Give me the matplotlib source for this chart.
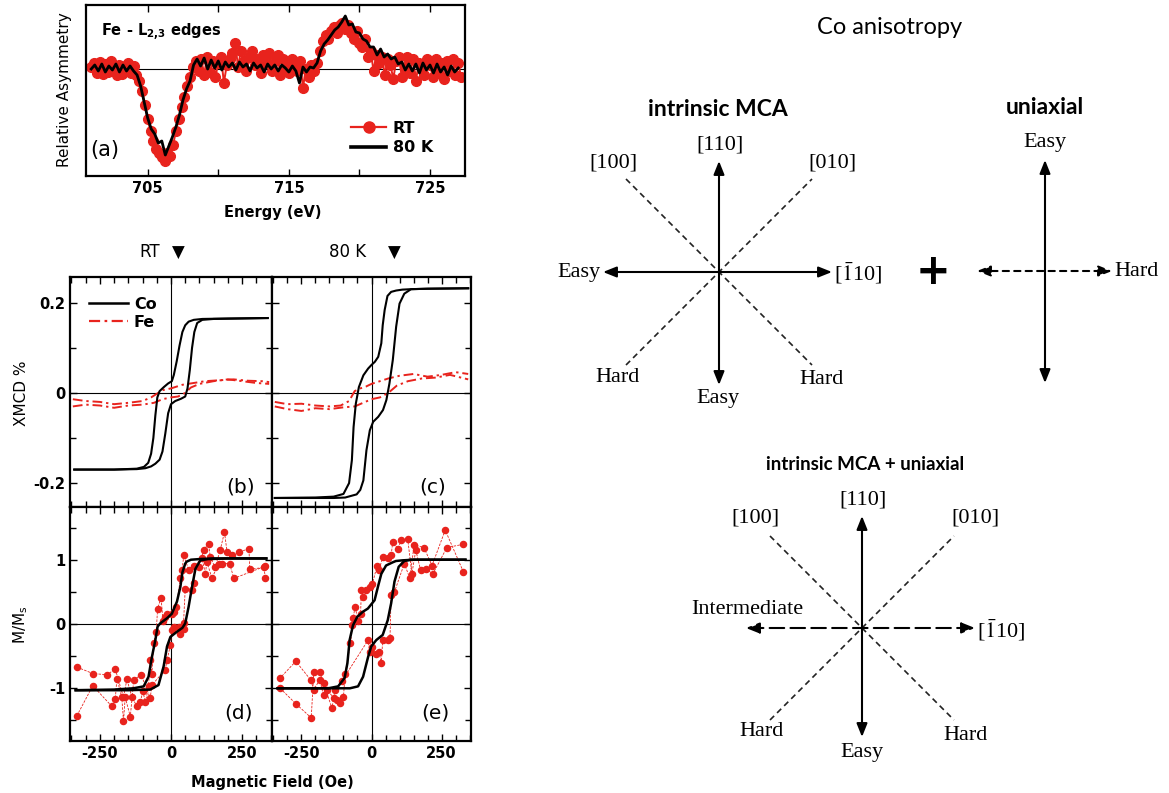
import numpy as np
import matplotlib.pyplot as plt
from matplotlib.lines import Line2D
from matplotlib.ticker import MultipleLocator, FixedLocator

plt.rcParams['font.family'] = 'DejaVu Sans'
plt.rcParams['axes.unicode_minus'] = False

### data ###
# (a) Fe L2,3 edge XMCD: 80 K line and RT dots
E_80K = [701.0, 701.25, 701.5, 701.75, 702.0, 702.25, 702.5, 702.75,
         703.0, 703.25, 703.5, 703.75, 704.0, 704.25, 704.5, 704.75,
         705.0, 705.25, 705.5, 705.75, 706.0, 706.25, 706.5, 706.75,
         707.0, 707.25, 707.5, 707.75, 708.0, 708.25, 708.5, 708.75,
         709.0, 709.25, 709.5, 709.75, 710.0, 710.25, 710.5, 710.75,
         711.0, 711.25, 711.5, 711.75, 712.0, 712.25, 712.5, 712.75,
         713.0, 713.25, 713.5, 713.75, 714.0, 714.25, 714.5, 714.75,
         715.0, 715.25, 715.5, 715.75, 716.0, 716.25, 716.5, 716.75,
         717.0, 717.25, 717.5, 717.75, 718.0, 718.25, 718.5, 718.75,
         719.0, 719.25, 719.5, 719.75, 720.0, 720.25, 720.5, 720.75,
         721.0, 721.25, 721.5, 721.75, 722.0, 722.25, 722.5, 722.75,
         723.0, 723.25, 723.5, 723.75, 724.0, 724.25, 724.5, 724.75,
         725.0, 725.25, 725.5, 725.75, 726.0, 726.25, 726.5, 726.75,
         727.0]
A_80K = [0.00, 0.04, -0.02, 0.05, -0.03, 0.03, -0.01, 0.05,
         -0.03, 0.04, -0.02, 0.03, -0.02, -0.06, -0.17, -0.33,
         -0.49, -0.60, -0.65, -0.74, -0.72, -0.86, -0.77, -0.68,
         -0.58, -0.46, -0.31, -0.20, -0.12, 0.04, 0.10, 0.03,
         0.11, 0.00, 0.09, 0.01, 0.08, -0.01, 0.07, 0.02,
         0.06, -0.01, 0.07, 0.02, 0.05, -0.02, 0.06, 0.01,
         0.04, -0.03, 0.05, 0.00, 0.04, -0.02, 0.04, 0.01,
         -0.03, 0.03, -0.02, -0.14, 0.02, -0.03, 0.02, 0.01,
         0.06, 0.18, 0.25, 0.29, 0.34, 0.39, 0.42, 0.47,
         0.53, 0.44, 0.45, 0.37, 0.36, 0.30, 0.28, 0.22,
         0.22, 0.14, 0.20, 0.12, 0.15, 0.10, 0.12, 0.05,
         0.07, -0.01, 0.05, -0.02, 0.05, -0.04, 0.06, -0.01,
         0.04, -0.04, 0.05, -0.03, 0.02, -0.06, 0.03, -0.03,
         0.01]
E_RT = [701.0, 701.2, 701.4, 701.6, 701.8, 702.0, 702.2, 702.4, 702.6, 702.8,
        703.0, 703.2, 703.4, 703.6, 703.8, 704.0, 704.2, 704.4, 704.6, 704.8,
        705.0, 705.2, 705.4, 705.6, 705.8, 706.0, 706.2, 706.4, 706.6, 706.8,
        707.0, 707.2, 707.4, 707.6, 707.8, 708.0, 708.2, 708.4, 708.6, 708.8,
        709.0, 709.2, 709.4, 709.6, 709.8, 710.0, 710.2, 710.4, 710.6, 710.8,
        711.0, 711.2, 711.4, 711.6, 711.8, 712.0, 712.2, 712.4, 712.6, 712.8,
        713.0, 713.2, 713.4, 713.6, 713.8, 714.0, 714.2, 714.4, 714.6, 714.8,
        715.0, 715.2, 715.4, 715.6, 715.8, 716.0, 716.2, 716.4, 716.6, 716.8,
        717.0, 717.2, 717.4, 717.6, 717.8, 718.0, 718.2, 718.4, 718.6, 718.8,
        719.0, 719.2, 719.4, 719.6, 719.8, 720.0, 720.2, 720.4, 720.6, 720.8,
        721.0, 721.2, 721.4, 721.6, 721.8, 722.0, 722.2, 722.4, 722.6, 722.8,
        723.0, 723.2, 723.4, 723.6, 723.8, 724.0, 724.2, 724.4, 724.6, 724.8,
        725.0, 725.2, 725.4, 725.6, 725.8, 726.0, 726.2, 726.4, 726.6, 726.8,
        727.0, 727.2]
A_RT = [0.02, 0.06, -0.04, 0.07, -0.05, 0.05, -0.03, 0.08, -0.02, -0.06,
        0.04, -0.05, 0.03, 0.06, -0.04, 0.03, -0.06, -0.12, -0.22, -0.36,
        -0.50, -0.62, -0.72, -0.80, -0.84, -0.88, -0.92, -0.84, -0.87, -0.76,
        -0.62, -0.50, -0.38, -0.28, -0.17, -0.08, 0.02, 0.08, -0.02, 0.10,
        -0.06, 0.12, -0.03, 0.08, -0.08, 0.06, 0.12, -0.14, 0.04, 0.10,
        0.16, 0.26, 0.02, 0.18, 0.08, -0.02, 0.12, 0.18, 0.04, 0.10,
        -0.04, 0.14, 0.06, 0.16, -0.02, 0.08, 0.14, -0.06, 0.10, 0.02,
        -0.04, 0.10, 0.04, -0.02, 0.08, -0.19, 0.00, -0.08, 0.04, -0.02,
        0.06, 0.18, 0.28, 0.34, 0.30, 0.38, 0.42, 0.36, 0.44, 0.46,
        0.40, 0.44, 0.36, 0.30, 0.38, 0.26, 0.22, 0.30, 0.12, 0.18,
        -0.02, 0.14, 0.06, 0.12, -0.06, 0.10, 0.04, -0.10, 0.08, 0.12,
        -0.08, 0.02, 0.12, -0.04, 0.10, -0.12, 0.06, 0.02, -0.06, 0.10,
        0.04, -0.08, 0.10, -0.04, 0.06, -0.10, 0.08, -0.02, 0.10, -0.06,
        0.06, -0.08]

# (b) XMCD loops at RT (field in Oe, XMCD in %)
H_Co_RT_dn = [340, 200, 110, 80, 62, 50, 40, 30, 20, 10, 3, -10, -25, -40, -48, -55,
              -62, -70, -80, -95, -120, -200, -340]
X_Co_RT_dn = [0.166, 0.165, 0.164, 0.162, 0.158, 0.150, 0.135, 0.105, 0.070, 0.040,
              0.026, 0.021, 0.013, 0.004, -0.010, -0.050, -0.100, -0.135, -0.155,
              -0.164, -0.168, -0.170, -0.170]
H_Co_RT_up = [-340, -200, -120, -90, -70, -55, -40, -30, -20, -10, 0, 15, 35, 50, 58,
              66, 74, 82, 92, 110, 150, 250, 340]
X_Co_RT_up = [-0.170, -0.170, -0.169, -0.167, -0.163, -0.157, -0.148, -0.130, -0.090,
              -0.045, -0.025, -0.018, -0.013, -0.008, 0.010, 0.050, 0.100, 0.135,
              0.155, 0.162, 0.164, 0.165, 0.166]
H_Fe_RT_dn = [-345, -300, -250, -200, -150, -100, -70, -50, -30, 0, 40, 80, 120, 170,
              220, 270, 320, 345]
X_Fe_RT_dn = [-0.014, -0.018, -0.020, -0.025, -0.022, -0.018, -0.010, -0.002, 0.006,
              0.010, 0.018, 0.022, 0.026, 0.028, 0.030, 0.027, 0.026, 0.024]
H_Fe_RT_up = [-345, -300, -250, -200, -150, -100, -60, -30, 0, 25, 50, 70, 100, 150,
              200, 250, 300, 345]
X_Fe_RT_up = [-0.030, -0.026, -0.028, -0.033, -0.028, -0.026, -0.022, -0.014, -0.010,
              -0.008, 0.000, 0.012, 0.020, 0.026, 0.030, 0.026, 0.022, 0.020]

# (c) XMCD loops at 80 K
H_Co_80_dn = [345, 200, 141, 110, 88, 70, 57, 47, 40, 35, 24, 12, 0, -12, -29, -45,
              -56, -64, -70, -80, -100, -135, -200, -345]
X_Co_80_dn = [0.232, 0.231, 0.230, 0.229, 0.227, 0.224, 0.215, 0.184, 0.150, 0.110,
              0.080, 0.069, 0.062, 0.054, 0.039, 0.013, -0.024, -0.076, -0.149,
              -0.200, -0.224, -0.230, -0.232, -0.233]
H_Co_80_up = [-345, -200, -135, -94, -53, -40, -29, -18, -6, 6, 24, 41, 53, 64, 76,
              88, 100, 117, 141, 200, 345]
X_Co_80_up = [-0.233, -0.233, -0.233, -0.232, -0.225, -0.215, -0.194, -0.127, -0.083,
              -0.064, -0.053, -0.038, -0.016, 0.021, 0.073, 0.147, 0.198, 0.220,
              0.230, 0.231, 0.232]
H_Fe_80_dn = [-345, -300, -250, -200, -150, -110, -80, -60, -40, -20, 0, 30, 60, 100,
              150, 200, 250, 300, 345]
X_Fe_80_dn = [-0.020, -0.025, -0.024, -0.028, -0.030, -0.028, -0.018, 0.004, 0.010,
              0.014, 0.020, 0.026, 0.032, 0.038, 0.042, 0.036, 0.040, 0.046, 0.042]
H_Fe_80_up = [-345, -300, -250, -200, -150, -100, -60, -30, 0, 30, 60, 90, 130, 180,
              230, 280, 345]
X_Fe_80_up = [-0.030, -0.036, -0.040, -0.034, -0.036, -0.032, -0.030, -0.022, -0.014,
              -0.010, 0.000, 0.016, 0.026, 0.032, 0.034, 0.040, 0.030]

# (d) M/Ms at RT: Co reference loop (line) and Fe dots
H_d_line_dn = [335, 150, 100, 70, 55, 50, 40, 33, 21, 3, -14, -38, -47, -55, -67, -79,
               -96, -132, -200, -335]
M_d_line_dn = [1.02, 1.02, 1.01, 1.00, 0.97, 0.94, 0.80, 0.58, 0.35, 0.16, 0.09, 0.01,
               -0.04, -0.25, -0.51, -0.82, -0.97, -1.00, -1.02, -1.03]
H_d_line_up = [-335, -150, -73, -44, -26, -14, -2, 21, 40, 50, 62, 74, 86, 103, 130,
               200, 335]
M_d_line_up = [-1.03, -1.03, -1.02, -0.95, -0.66, -0.35, -0.20, -0.12, -0.06, 0.01,
               0.27, 0.58, 0.86, 0.99, 1.01, 1.02, 1.02]
H_d_dots_dn = [332, 326, 277, 274, 239, 215, 197, 188, 173, 155, 138, 132, 115, 97, 62,
               45, 39, 33, 19, 9, 3, -14, -20, -28, -35, -47, -52, -61, -67, -73, -79,
               -90, -99, -108, -120, -137, -155, -167, -196, -225, -275, -331]
M_d_dots_dn = [0.72, 0.88, 0.85, 1.17, 1.12, 1.08, 1.12, 1.43, 1.15, 0.88, 1.04, 1.25,
               1.15, 0.88, 0.84, 1.07, 0.84, 0.71, 0.27, 0.18, 0.16, 0.16, 0.11, 0.04,
               0.41, 0.24, -0.12, -0.30, -0.77, -0.56, -0.97, -1.22, -1.04, -1.22,
               -1.28, -1.14, -0.86, -1.14, -0.70, -0.79, -0.77, -0.67]
H_d_dots_up = [-331, -275, -208, -196, -190, -173, -167, -161, -143, -131, -105, -73,
               -67, -20, -14, -2, 3, 9, 27, 33, 44, 44, 50, 74, 80, 82, 109, 121, 126,
               144, 167, 179, 206, 221, 332]
M_d_dots_up = [-1.43, -0.96, -1.28, -1.17, -0.85, -1.14, -1.51, -1.14, -1.44, -0.87,
               -0.79, -1.15, -0.95, -0.71, -0.56, -0.33, -0.10, -0.04, -0.04, -0.15,
               -0.07, 0.01, 0.55, 0.53, 0.64, 0.91, 1.02, 0.78, 0.97, 0.71, 0.94,
               0.94, 0.94, 0.71, 0.90]

# (e) M/Ms at 80 K
H_e_line_dn = [335, 150, 110, 87, 76, 52, 35, 23, 11, -13, -31, -51, -66, -78, -86, -96,
               -119, -154, -335]
M_e_line_dn = [1.00, 1.00, 0.99, 0.98, 0.96, 0.91, 0.78, 0.58, 0.37, 0.24, 0.19, 0.11,
               -0.02, -0.25, -0.61, -0.84, -0.97, -1.00, -1.00]
H_e_line_up = [-335, -77, -48, -30, -12, -1, 17, 40, 58, 70, 82, 97, 117, 140, 335]
M_e_line_up = [-1.00, -1.00, -0.97, -0.82, -0.51, -0.35, -0.25, -0.17, 0.06, 0.32, 0.66,
               0.89, 0.98, 1.00, 1.00]
H_e_dots_dn = [328, 269, 219, 193, 175, 158, 144, 129, 106, 94, 76, 70, 58, 40, 27, 20,
               3, -7, -21, -30, -36, -39, -47, -59, -65, -68, -75, -94, -100, -112,
               -124, -135, -159, -171, -185, -206, -217, -270, -326]
M_e_dots_dn = [1.24, 1.19, 0.78, 0.86, 0.84, 1.15, 0.78, 1.33, 1.30, 1.17, 1.28, 1.07,
               1.02, 1.04, 0.84, 0.91, 0.62, 0.58, 0.53, 0.42, 0.53, 0.16, 0.05, 0.27,
               0.09, -0.02, -0.30, -0.77, -1.13, -1.23, -1.18, -1.15, -1.02, -1.11,
               -0.87, -1.02, -0.87, -0.58, -0.84]
H_e_dots_up = [-326, -270, -215, -206, -185, -171, -141, -130, -106, -12, -7, 3, 15, 27,
               35, 40, 58, 66, 70, 82, 117, 137, 152, 187, 216, 263, 328]
M_e_dots_up = [-1.00, -1.24, -1.46, -0.75, -0.75, -0.92, -1.31, -1.02, -0.89, -0.25,
               -0.43, -0.35, -0.46, -0.43, -0.61, -0.25, -0.25, -0.22, 0.45, 0.50,
               0.94, 0.71, 1.23, 1.19, 0.91, 1.46, 0.81]

### layout ###
W, H = 1169, 793
RED = '#e8231d'
TICKFONT = dict(fontweight='bold', fontsize=10.5)


def px_rect(x0, y0, x1, y1):
    return [x0 / W, 1 - y1 / H, (x1 - x0) / W, (y1 - y0) / H]


def frame(ax):
    for s in ax.spines.values():
        s.set_linewidth(1.6)
    ax.tick_params(which='both', direction='in', top=True, right=True, width=1.0)
    ax.tick_params(which='major', length=5)
    ax.tick_params(which='minor', length=4)


fig = plt.figure(figsize=(W / 100, H / 100), dpi=100)

# ---- panel (a) ----
ax_a = fig.add_axes(px_rect(86, 5, 465, 176))
ax_a.axhline(0, color='k', lw=0.8, zorder=1)
ax_a.plot(E_RT, A_RT, '-o', color=RED, ms=7, lw=1.4, zorder=2)
ax_a.plot(E_80K, A_80K, 'k-', lw=2.0, zorder=3)
ax_a.set_xlim(700.63, 727.48)
ax_a.set_ylim(-1.07, 0.64)
ax_a.set_yticks([])
ax_a.set_xticks([705, 710, 715, 720, 725], ['705', '', '715', '', '725'], **TICKFONT)
frame(ax_a)
ax_a.tick_params(left=False, right=False)
h_rt = Line2D([], [], color=RED, marker='o', ms=8, lw=1.6)
h_80 = Line2D([], [], color='k', lw=2.6)
ax_a.legend([h_rt, h_80], ['RT', '80 K'], loc='lower left', bbox_to_anchor=(0.70, 0.12),
            frameon=False, prop=dict(weight='bold', size=11.5), handlelength=2.2,
            handletextpad=0.4, labelspacing=0.3, borderaxespad=0, borderpad=0)
ax_a.text(0.04, 0.84, r'Fe - L$_{\mathbf{2{,}3}}$ edges', transform=ax_a.transAxes,
          fontweight='bold', fontsize=10.5, math_fontfamily='dejavusans', va='center')


# ---- loop panels (b)-(e) ----
def loop_panel(rect, ylim, ymaj, ylabels, ymin, show_x, show_y):
    ax = fig.add_axes(px_rect(*rect))
    ax.axhline(0, color='k', lw=0.8, zorder=1)
    ax.axvline(0, color='k', lw=0.8, zorder=1)
    ax.set_xlim(-355, 355)
    ax.set_ylim(*ylim)
    ax.set_xticks([-250, 0, 250], ['-250', '0', '250'], **TICKFONT)
    ax.xaxis.set_minor_locator(MultipleLocator(50))
    ax.set_yticks(ymaj, ylabels, **TICKFONT)
    ax.yaxis.set_minor_locator(FixedLocator(ymin))
    frame(ax)
    ax.tick_params(labelbottom=show_x, labelleft=show_y)
    return ax


ax_b = loop_panel((70, 277, 272, 507), (-0.253, 0.257), [-0.2, 0, 0.2], ['-0.2', '0', '0.2'],
                  [-0.1, 0.1], False, True)
ax_c = loop_panel((272, 277, 471, 507), (-0.253, 0.257), [-0.2, 0, 0.2], ['-0.2', '0', '0.2'],
                  [-0.1, 0.1], False, False)
ax_d = loop_panel((70, 507, 272, 741), (-1.82, 1.82), [-1, 0, 1], ['-1', '0', '1'],
                  [-1.5, -0.5, 0.5, 1.5], True, True)
ax_e = loop_panel((272, 507, 471, 741), (-1.82, 1.82), [-1, 0, 1], ['-1', '0', '1'],
                  [-1.5, -0.5, 0.5, 1.5], True, False)

FE_LS = (0, (5, 2, 1.2, 2))
for ax, hdn, xdn, hup, xup in [(ax_b, H_Fe_RT_dn, X_Fe_RT_dn, H_Fe_RT_up, X_Fe_RT_up),
                               (ax_c, H_Fe_80_dn, X_Fe_80_dn, H_Fe_80_up, X_Fe_80_up)]:
    ax.plot(hdn, xdn, color=RED, lw=1.4, ls=FE_LS, zorder=2)
    ax.plot(hup, xup, color=RED, lw=1.4, ls=FE_LS, zorder=2)
for ax, hdn, xdn, hup, xup in [(ax_b, H_Co_RT_dn, X_Co_RT_dn, H_Co_RT_up, X_Co_RT_up),
                               (ax_c, H_Co_80_dn, X_Co_80_dn, H_Co_80_up, X_Co_80_up)]:
    ax.plot(hdn, xdn, 'k-', lw=1.5, zorder=3)
    ax.plot(hup, xup, 'k-', lw=1.5, zorder=3)

ax_b.legend([Line2D([], [], color='k', lw=1.8), Line2D([], [], color=RED, lw=1.6, ls=FE_LS)],
            ['Co', 'Fe'], loc='upper left', bbox_to_anchor=(0.095, 0.915), frameon=False,
            prop=dict(weight='bold', size=11.5), handlelength=2.4, handletextpad=0.4,
            labelspacing=0.2, borderaxespad=0, borderpad=0)

for ax, hl1, ml1, hl2, ml2, hd1, md1, hd2, md2 in [
        (ax_d, H_d_line_dn, M_d_line_dn, H_d_line_up, M_d_line_up,
         H_d_dots_dn, M_d_dots_dn, H_d_dots_up, M_d_dots_up),
        (ax_e, H_e_line_dn, M_e_line_dn, H_e_line_up, M_e_line_up,
         H_e_dots_dn, M_e_dots_dn, H_e_dots_up, M_e_dots_up)]:
    ax.plot(hd1, md1, '-o', color=RED, ms=4.4, lw=0.6, ls=(0, (3, 1.5)), zorder=2)
    ax.plot(hd2, md2, '-o', color=RED, ms=4.4, lw=0.6, ls=(0, (3, 1.5)), zorder=2)
    ax.plot(hl1, ml1, 'k-', lw=1.8, zorder=3)
    ax.plot(hl2, ml2, 'k-', lw=1.8, zorder=3)

# ---- overlay in pixel coordinates ----
ax_o = fig.add_axes([0, 0, 1, 1], zorder=10)
ax_o.set_xlim(0, W)
ax_o.set_ylim(H, 0)
ax_o.axis('off')

ax_o.text(64, 90, 'Relative Asymmetry', rotation=90, ha='center', va='center', fontsize=11)
ax_o.text(273, 213, 'Energy (eV)', ha='center', va='center', fontsize=10.5, fontweight='bold')
ax_o.text(105, 150, '(a)', ha='center', va='center', fontsize=15)
ax_o.text(150, 252, 'RT', ha='center', va='center', fontsize=12)
ax_o.text(178, 253, '\u25bc', ha='center', va='center', fontsize=12)
ax_o.text(348, 252, '80 K', ha='center', va='center', fontsize=12)
ax_o.text(394, 253, '\u25bc', ha='center', va='center', fontsize=12)
ax_o.text(21, 393, 'XMCD %', rotation=90, ha='center', va='center', fontsize=11)
ax_o.text(21, 625, r'M/M$_\mathrm{s}$', rotation=90, ha='center', va='center', fontsize=11,
          math_fontfamily='dejavusans')
ax_o.text(272, 783, 'Magnetic Field (Oe)', ha='center', va='center', fontsize=10.5,
          fontweight='bold')
for lab, x, y in [('(b)', 241, 487), ('(c)', 433, 487), ('(d)', 238, 713), ('(e)', 435, 713)]:
    ax_o.text(x, y, lab, ha='center', va='center', fontsize=14.5)

# ---- anisotropy diagrams ----
SERIF = dict(family='Liberation Serif', fontsize=16, ha='center', va='center')
TITLE = dict(family='Lato', fontweight='bold', fontsize=16.5, ha='center', va='center')
BAR110 = r'[$\bar{1}$10]'
DIAG_LS = (0, (3.5, 2.5))


def arrow(x0, y0, x1, y1, both=True, ls='-'):
    style = ('<|-|>' if both else '-|>') + ',head_length=0.8,head_width=0.32'
    ax_o.annotate('', xy=(x1, y1), xytext=(x0, y0),
                  arrowprops=dict(arrowstyle=style, lw=1.5, color='k', ls=ls,
                                  shrinkA=0, shrinkB=0, mutation_scale=10))


def diagonals(cx, cy, r):
    ax_o.plot([cx - r, cx + r], [cy - r, cy + r], color='#222222', lw=1.2, ls=DIAG_LS)
    ax_o.plot([cx - r, cx + r], [cy + r, cy - r], color='#222222', lw=1.2, ls=DIAG_LS)


ax_o.text(890, 27, 'Co anisotropy', family='Lato', fontsize=17, ha='center', va='center')

# intrinsic MCA
c1x, c1y = 719, 272
ax_o.text(718, 110, 'intrinsic MCA', **TITLE)
diagonals(c1x, c1y, 93)
arrow(c1x, c1y + 113, c1x, c1y - 111)
arrow(c1x - 116, c1y, c1x + 113, c1y)
ax_o.text(c1x + 1, c1y - 127, '[110]', **SERIF)
ax_o.text(c1x - 106, c1y - 109, '[100]', **SERIF)
ax_o.text(c1x + 113, c1y - 109, '[010]', **SERIF)
ax_o.text(c1x - 118, c1y + 1, 'Easy', **{**SERIF, 'ha': 'right'})
ax_o.text(c1x + 115, c1y + 1, BAR110, math_fontfamily='stix', **{**SERIF, 'ha': 'left'})
ax_o.text(c1x - 101, c1y + 105, 'Hard', **SERIF)
ax_o.text(c1x - 1, c1y + 126, 'Easy', **SERIF)
ax_o.text(c1x + 103, c1y + 108, 'Hard', **SERIF)

ax_o.text(933, 272, '+', fontsize=30, fontweight='bold', ha='center', va='center')

# uniaxial
c2x, c2y = 1045, 271
ax_o.text(1045, 108, 'uniaxial', **TITLE)
arrow(c2x, c2y + 112, c2x, c2y - 111)
arrow(c2x - 68, c2y, c2x + 67, c2y, ls=(0, (3, 2.5)))
ax_o.text(c2x, 143, 'Easy', **SERIF)
ax_o.text(c2x + 69, c2y + 1, 'Hard', **{**SERIF, 'ha': 'left'})

# intrinsic MCA + uniaxial
c3x, c3y = 862, 628
ax_o.text(865, 465, 'intrinsic MCA + uniaxial', **{**TITLE, 'fontsize': 13.5})
diagonals(c3x, c3y, 92)
arrow(c3x, c3y + 109, c3x, c3y - 112)
arrow(c3x - 116, c3y, c3x + 113, c3y, ls=(0, (7, 3)))
ax_o.text(c3x + 1, c3y - 128, '[110]', **SERIF)
ax_o.text(c3x - 107, c3y - 110, '[100]', **SERIF)
ax_o.text(c3x + 113, c3y - 110, '[010]', **SERIF)
ax_o.text(c3x - 115, c3y - 18, 'Intermediate', **SERIF)
ax_o.text(c3x + 115, c3y + 2, BAR110, math_fontfamily='stix', **{**SERIF, 'ha': 'left'})
ax_o.text(c3x - 100, c3y + 103, 'Hard', **SERIF)
ax_o.text(c3x, c3y + 125, 'Easy', **SERIF)
ax_o.text(c3x + 103, c3y + 107, 'Hard', **SERIF)

fig.savefig('out.png', dpi=100)
